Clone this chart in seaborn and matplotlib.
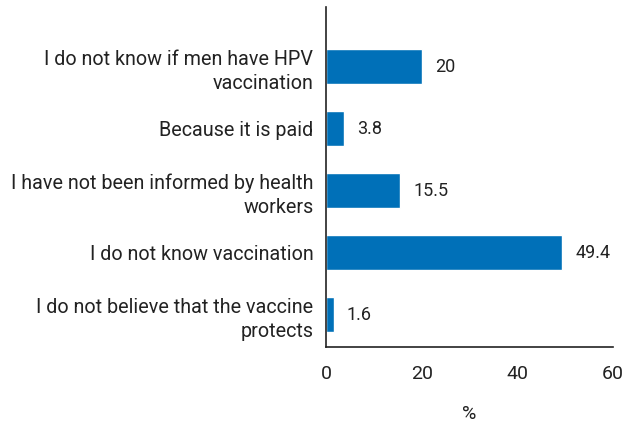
import matplotlib
matplotlib.use("Agg")
import matplotlib.pyplot as plt
import seaborn as sns
import pandas as pd

categories = [
    "I do not know if men have HPV\nvaccination",
    "Because it is paid",
    "I have not been informed by health\nworkers",
    "I do not know vaccination",
    "I do not believe that the vaccine\nprotects",
]
values = [20, 3.8, 15.5, 49.4, 1.6]
value_labels = ["20", "3.8", "15.5", "49.4", "1.6"]
xticks = [0, 20, 40, 60]

sns.set_style("white")
plt.rcParams["font.family"] = ["Roboto", "DejaVu Sans"]

df = pd.DataFrame({"cat": categories, "val": values})

fig = plt.figure(figsize=(6.31, 4.25), dpi=100)
ax = fig.add_axes([0.5166, 0.1835, 0.4549, 0.8])
sns.barplot(data=df, y="cat", x="val", color="#0070b8", saturation=1,
            width=0.56, ax=ax, orient="h")

for i, (v, lab) in enumerate(zip(values, value_labels)):
    ax.annotate(lab, xy=(v, i), xytext=(9.5, 0), textcoords="offset points",
                va="center", ha="left", fontsize=13, color="#222222")

ax.set_xlim(0, 60)
ax.set_ylim(4.52, -0.96)
ax.set_xticks(xticks)
ax.set_xticklabels([str(t) for t in xticks], fontsize=14, color="#222222")
ax.set_yticks(range(len(categories)))
ax.set_yticklabels(categories, fontsize=14.2, color="#222222",
                   multialignment="right", linespacing=1.35)
ax.tick_params(axis="x", direction="in", length=5, width=1, color="#222222", pad=13)
ax.tick_params(axis="y", length=0, pad=9)
ax.set_xlabel("%", fontsize=14, color="#222222", labelpad=16)
ax.set_ylabel("")
for s in ["top", "right"]:
    ax.spines[s].set_visible(False)
for s in ["left", "bottom"]:
    ax.spines[s].set_color("#222222")
    ax.spines[s].set_linewidth(1.2)

fig.savefig("out.png", dpi=100)
